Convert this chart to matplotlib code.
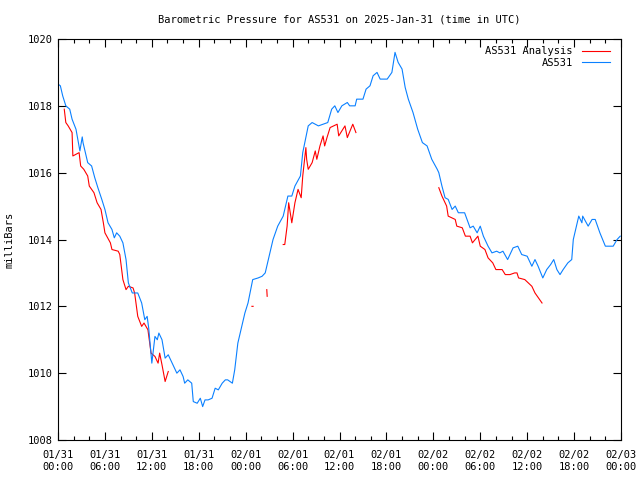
import matplotlib
matplotlib.use('Agg')
import matplotlib.pyplot as plt
import numpy as np

nan = np.nan

# hours since 2025-01-31 00:00 UTC
as531_hours = [0.0, 0.3, 0.6, 1.0, 1.5, 1.8, 2.3, 2.6, 2.8, 3.1, 3.2, 3.7, 3.8, 4.3, 4.7, 5.1,
               5.6, 6.0, 6.4, 6.9, 7.2, 7.5, 7.9, 8.3, 8.7, 9.0, 9.5, 10.2, 10.7, 11.1, 11.4,
               11.6, 12.0, 12.4, 12.7, 12.9, 13.3, 13.7, 14.1, 14.6, 15.2, 15.6, 16.0, 16.2,
               16.6, 17.1, 17.3, 17.8, 18.2, 18.5, 18.8, 19.2, 19.7, 20.1, 20.5, 21.0, 21.4,
               21.7, 22.3, 22.6, 23.0, 23.5, 23.9, 24.3, 24.9, 25.6, 26.1, 26.5, 27.1, 27.5,
               28.1, 28.8, 29.4, 29.9, 30.3, 31.0, 31.3, 32.0, 32.5, 33.3, 34.5, 35.0, 35.4,
               35.8, 36.3, 37.0, 37.3, 38.0, 38.2, 39.0, 39.4, 39.9, 40.3, 40.8, 41.2, 42.1,
               42.7, 43.1, 43.5, 44.0, 44.4, 44.8, 45.4, 46.0, 46.6, 47.2, 47.8, 48.5, 48.7,
               49.1, 49.5, 49.9, 50.4, 50.8, 51.2, 52.0, 52.7, 53.1, 53.6, 54.0, 54.4, 55.0,
               55.5, 56.1, 56.5, 56.9, 57.5, 58.2, 58.8, 59.3, 60.0, 60.6, 61.0, 61.4, 62.0,
               62.5, 63.0, 63.4, 63.8, 64.2, 64.6, 65.2, 65.7, 65.9, 66.4, 66.6, 67.0, 67.1,
               67.8, 68.3, 68.7, 69.3, 70.0, 71.0, 71.5, 71.9]
as531_mb = [1018.65, 1018.6, 1018.3, 1018.0, 1017.9, 1017.6, 1017.3, 1016.9, 1016.65, 1017.07,
            1016.9, 1016.4, 1016.3, 1016.2, 1015.85, 1015.55, 1015.2, 1014.9, 1014.5, 1014.3,
            1014.05, 1014.2, 1014.1, 1013.9, 1013.4, 1012.7, 1012.4, 1012.4, 1012.1, 1011.6,
            1011.7, 1011.35, 1010.3, 1011.1, 1011.0, 1011.2, 1011.0, 1010.45, 1010.55, 1010.3,
            1010.0, 1010.1, 1009.9, 1009.7, 1009.8, 1009.7, 1009.15, 1009.1, 1009.25, 1009.0,
            1009.2, 1009.2, 1009.25, 1009.55, 1009.5, 1009.7, 1009.8, 1009.8, 1009.7, 1010.1,
            1010.9, 1011.4, 1011.8, 1012.1, 1012.8, 1012.85, 1012.9, 1013.0, 1013.6, 1014.0,
            1014.4, 1014.7, 1015.3, 1015.3, 1015.6, 1015.9, 1016.6, 1017.4, 1017.5, 1017.4,
            1017.5, 1017.9, 1018.0, 1017.8, 1018.0, 1018.1, 1018.0, 1018.0, 1018.2, 1018.2,
            1018.5, 1018.6, 1018.9, 1019.0, 1018.8, 1018.8, 1019.0, 1019.6, 1019.3, 1019.1,
            1018.55, 1018.2, 1017.8, 1017.3, 1016.9, 1016.8, 1016.4, 1016.1, 1016.0, 1015.6,
            1015.25, 1015.2, 1014.9, 1015.0, 1014.8, 1014.8, 1014.35, 1014.4, 1014.2, 1014.4,
            1014.1, 1013.8, 1013.6, 1013.65, 1013.6, 1013.65, 1013.4, 1013.75, 1013.8, 1013.55,
            1013.5, 1013.2, 1013.4, 1013.2, 1012.85, 1013.1, 1013.25, 1013.4, 1013.1, 1012.95,
            1013.1, 1013.3, 1013.4, 1014.0, 1014.5, 1014.7, 1014.5, 1014.7, 1014.4, 1014.6,
            1014.6, 1014.2, 1013.8, 1013.8, 1014.0, 1014.1]

# analysis series, gaps marked with nan
analysis_hours = [0.8, 1.0, 1.3, 1.8, 1.9, 2.7, 2.9, 3.3, 3.8, 4.0, 4.6, 5.0, 5.5, 5.8, 6.0,
                  6.7, 6.9, 7.7, 7.9, 8.3, 8.7, 9.0, 9.6, 9.8, 10.2, 10.7, 11.0, 11.5, 11.9,
                  12.4, 12.8, 13.0, 13.3, 13.7, 14.1, nan,
                  24.8, 24.95, nan,
                  26.7, 26.75, nan,
                  28.8, 29.0, 29.3, 29.5, 29.9, 30.3, 30.7, 31.1, 31.3, 31.7, 31.8, 32.0,
                  32.5, 32.9, 33.1, 33.5, 33.9, 34.1, 34.4, 34.8, 35.7, 35.9, 36.7, 37.0,
                  37.7, 38.1, nan,
                  48.7, 49.1, 49.7, 49.9, 50.8, 51.0, 51.7, 52.1, 52.7, 53.0, 53.7, 54.0,
                  54.6, 55.0, 55.6, 56.0, 56.8, 57.2, 57.8, 58.4, 58.7, 58.9, 59.7, 60.6,
                  61.0, 61.9]
analysis_mb = [1017.9, 1017.5, 1017.4, 1017.2, 1016.5, 1016.6, 1016.2, 1016.1, 1015.9, 1015.6,
               1015.4, 1015.1, 1014.9, 1014.5, 1014.2, 1013.9, 1013.7, 1013.65, 1013.55,
               1012.8, 1012.5, 1012.6, 1012.55, 1012.4, 1011.7, 1011.4, 1011.5, 1011.3,
               1010.6, 1010.5, 1010.3, 1010.6, 1010.25, 1009.75, 1010.05, nan,
               1012.0, 1012.0, nan,
               1012.5, 1012.3, nan,
               1013.85, 1013.85, 1014.4, 1015.1, 1014.5, 1015.1, 1015.5, 1015.25, 1015.9,
               1016.75, 1016.4, 1016.1, 1016.3, 1016.65, 1016.4, 1016.8, 1017.1, 1016.8,
               1017.05, 1017.35, 1017.45, 1017.1, 1017.4, 1017.05, 1017.45, 1017.2, nan,
               1015.55, 1015.3, 1015.0, 1014.7, 1014.6, 1014.4, 1014.35, 1014.1, 1014.1,
               1013.9, 1014.1, 1013.8, 1013.7, 1013.45, 1013.3, 1013.1, 1013.1, 1012.95,
               1012.95, 1013.0, 1013.0, 1012.85, 1012.8, 1012.6, 1012.4, 1012.1]

xtick_hours = list(range(0, 73, 6))
xtick_labels = ['01/31\n00:00', '01/31\n06:00', '01/31\n12:00', '01/31\n18:00',
                '02/01\n00:00', '02/01\n06:00', '02/01\n12:00', '02/01\n18:00',
                '02/02\n00:00', '02/02\n06:00', '02/02\n12:00', '02/02\n18:00',
                '02/03\n00:00']
yticks = [1008, 1010, 1012, 1014, 1016, 1018, 1020]

plt.rcParams['font.family'] = ['DejaVu Sans Mono']
plt.rcParams['font.size'] = 7.5

fig = plt.figure(figsize=(6.4, 4.8), dpi=100)
ax = fig.add_axes([58 / 640, 1 - 440 / 480, 563 / 640, 401 / 480])

ax.plot(analysis_hours, analysis_mb, color='#ff0000', lw=0.8, label='AS531 Analysis')
ax.plot(as531_hours, as531_mb, color='#0a80ff', lw=0.8, label='AS531')

ax.set_xlim(0, 72)
ax.set_ylim(1008, 1020)
ax.set_xticks(xtick_hours)
ax.set_xticklabels(xtick_labels)
ax.set_xticks(range(0, 73, 2), minor=True)
ax.set_yticks(yticks)
ax.set_yticklabels([str(v) for v in yticks])

ax.tick_params(which='both', direction='in', top=True, right=True, width=0.8, color='black')
ax.tick_params(which='major', length=6, pad=4)
ax.tick_params(axis='x', which='major', pad=7.5)
ax.tick_params(which='minor', length=3)
for s in ax.spines.values():
    s.set_linewidth(0.8)

ax.set_ylabel('milliBars', labelpad=9)
fig.text(339.5 / 640, 1 - 19 / 480, 'Barometric Pressure for AS531 on 2025-Jan-31 (time in UTC)',
         ha='center', va='center', fontsize=7.5)

ax.legend(loc='upper right', bbox_to_anchor=(1 - 4 / 563, 1), frameon=False, markerfirst=False,
          handlelength=2.7, borderaxespad=0.3, labelspacing=0.15, handletextpad=0.85,
          fontsize=7.5)

fig.savefig('out.png', dpi=100)
